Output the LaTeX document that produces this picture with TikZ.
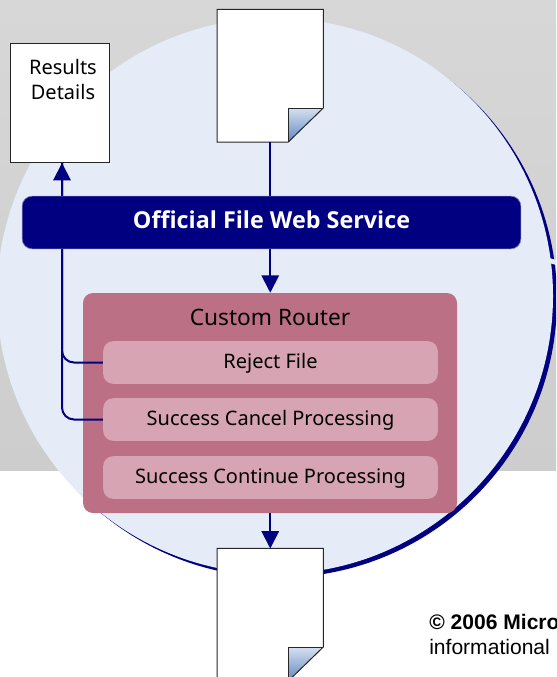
\documentclass[tikz,border=0pt]{standalone}
\usepackage{fontspec}
\setmainfont{Noto Sans}
\newfontfamily\noticefont{Liberation Sans}
\newfontfamily\barfont{Open Sans}
\usetikzlibrary{arrows.meta}
\definecolor{bgGrayTop}{RGB}{215,215,215}
\definecolor{bgGrayLow}{RGB}{205,205,205}
\definecolor{discBlue}{RGB}{230,236,247}
\definecolor{navyLine}{RGB}{0,0,128}
\definecolor{routerRed}{RGB}{188,112,134}
\definecolor{optionRose}{RGB}{214,164,178}
\definecolor{foldLight}{RGB}{214,224,240}
\definecolor{foldDark}{RGB}{96,136,192}
\tikzset{
  docbox/.style={inner sep=0pt,minimum width=#1*0.75pt},
  flow/.style={draw=navyLine,line width=1.5pt,-{Triangle[width=13pt,length=13pt]}},
  flowplain/.style={draw=navyLine,line width=1.5pt,rounded corners=9pt},
  option/.style={fill=optionRose,rounded corners=7.5pt,minimum width=251pt,minimum height=32pt,inner sep=0pt,text height=10.5pt,text depth=1.8pt,font=\fontsize{15}{18}\selectfont},
}
\newcommand{\foldeddoc}[1]{%
  \fill[white] (#1.north west) -- (#1.north east) -- ([yshift=-25.5pt]#1.south east) -- ([xshift=-26.25pt]#1.south east) -- (#1.south west) -- cycle;
  \shade[top color=foldLight,bottom color=foldDark] ([yshift=-25.5pt]#1.south east) -- ([xshift=-26.25pt,yshift=-25.5pt]#1.south east) -- ([xshift=-26.25pt]#1.south east) -- cycle;
  \draw[line width=0.75pt,draw=black!85] (#1.north west) -- (#1.north east) -- ([yshift=-25.5pt]#1.south east) -- ([xshift=-26.25pt]#1.south east) -- (#1.south west) -- cycle;
  \draw[line width=0.75pt,draw=black!85] ([yshift=-25.5pt]#1.south east) -- ([xshift=-26.25pt,yshift=-25.5pt]#1.south east) -- ([xshift=-26.25pt]#1.south east);
}
\begin{document}
\begin{tikzpicture}[x=0.75pt,y=0.75pt,yscale=-1,xscale=1]
\useasboundingbox (0,0) rectangle (556,677);
\clip (0,0) rectangle (556,677);

%Background
\shade[top color=bgGrayTop,bottom color=bgGrayLow] (0,0) rectangle (556,470);
%Disc
\fill[navyLine] (279,299.5) circle [radius=278];
\fill[discBlue] (275,296) circle [radius=278];
\fill[discBlue] (546,257) -- (556,260) -- (556,265) -- (546,262) -- cycle;

%Router
\node[fill=routerRed,rounded corners=7.5pt,minimum width=280.5pt,minimum height=165pt,inner sep=0pt] (router) at (270,403) {};
\node[anchor=north,font=\fontsize{17}{21}\selectfont] (routerlabel) at (270,304) {Custom Router};
\node[option] (reject) at (270.5,362.5) {Reject File};
\node[option] (cancel) at (270.5,419.5) {Success Cancel Processing};
\node[option] (continue) at (270.5,477.5) {Success Continue Processing};

%Documents
\node[docbox=105.5,minimum height=99pt] (inputdoc) at (270.25,75.75) {};
\node[docbox=105.5,minimum height=99pt] (outputdoc) at (270.25,614.75) {};
\node[draw=black!85,fill=white,line width=0.75pt,inner sep=0pt,minimum width=74.25pt,minimum height=89.25pt] (resultsdoc) at (60,103) {};
\node[anchor=north,align=center,font=\fontsize{15}{18.75}\selectfont] (resultslabel) at (63,55) {Results\\Details};
\foldeddoc{inputdoc}
\foldeddoc{outputdoc}

%Connectors
\coordinate (junction) at (62,162);
\draw[flowplain] (reject.west) -| (resultsdoc.south -| junction);
\draw[flowplain] (cancel.west) -| (resultsdoc.south -| junction);
\draw[flow] (62,200) -- (resultsdoc.south -| junction);
\draw[draw=navyLine,line width=1.5pt] (inputdoc.south) -- (270.25,200);
\draw[flow] (270.25,245) -- (router.north -| inputdoc.south);
\draw[flow] (router.south -| inputdoc.south) -- (outputdoc.north);

%Service bar
\node[fill=navyLine,draw=navyLine!55,line width=0.5pt,rounded corners=7.5pt,minimum width=374pt,minimum height=39.5pt,inner sep=0pt,text=white,text height=11.5pt,text depth=2.4pt,font=\barfont\fontsize{17.5}{21}\selectfont\bfseries] (service) at (271.5,222.5) {Official File Web Service};

%Notice
\node[anchor=north west,inner sep=0pt,font=\noticefont\fontsize{15.8}{18.75}\selectfont,align=left] (notice) at (429,614) {\textbf{© 2006 Micro}\\informational};

\end{tikzpicture}
\end{document}
